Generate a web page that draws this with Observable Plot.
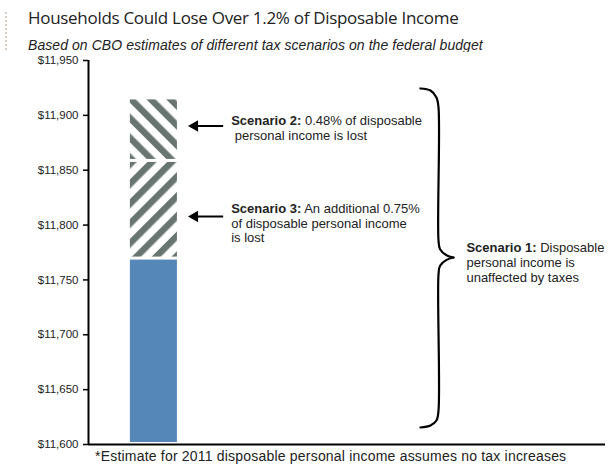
<!DOCTYPE html>
<html><head><meta charset="utf-8">
<script src="https://cdn.jsdelivr.net/npm/d3@7"></script>
<script src="https://cdn.jsdelivr.net/npm/@observablehq/plot@0.6"></script>
<style>
body{margin:0;background:#fff;}
#wrap{position:relative;width:610px;height:466px;overflow:hidden;font-family:"Liberation Sans",Arial,sans-serif;color:#222;}
#border{position:absolute;left:5px;top:12px;bottom:0;border-left:2px dotted #d8cbc2;}
#title{position:absolute;left:28px;top:6px;font-family:"Open Sans",sans-serif;font-size:17px;letter-spacing:-0.3px;font-weight:400;white-space:nowrap;color:#222;}
#subtitle{position:absolute;left:28px;top:37px;font-style:italic;font-size:14px;letter-spacing:0.07px;white-space:nowrap;}
#chart{position:absolute;left:0;top:52px;}
#caption{position:absolute;left:95px;top:448px;font-size:14px;line-height:16px;letter-spacing:0.2px;white-space:nowrap;}
svg text{white-space:pre;}
</style></head>
<body>
<div id="wrap">
  <div id="border"></div>
  <div id="title">Households Could Lose Over 1.2% of Disposable Income</div>
  <div id="subtitle">Based on CBO estimates of different tax scenarios on the federal budget</div>
  <div id="chart"></div>
  <div id="caption">*Estimate for 2011 disposable personal income assumes no tax increases</div>
</div>
<script>
// ---- data ----
const yTicks = [11600, 11650, 11700, 11750, 11800, 11850, 11900, 11950];
const segmentNames = ["Scenario 1", "Scenario 3", "Scenario 2"];
const segmentLow  = [11600, 11769, 11858];
const segmentHigh = [11769, 11858, 11915];
const noteTexts = [
  "Scenario 2: 0.48% of disposable\n personal income is lost",
  "Scenario 3: An additional 0.75%\nof disposable personal income\nis lost",
  "Scenario 1: Disposable\npersonal income is\nunaffected by taxes"
];
const noteY = [11888.5, 11802, 11766];
const arrowY = [11890.3, 11807.8];
// annotation positions on a neutral 0–100 horizontal axis
const barX = [8.1, 17.2];
const noteX = [27.6, 27.6, 73.1];
const arrowX = [26.05, 20.54, 19.25]; // shaft start, head centre, tip
const braceUpper = [[64.2,11924.5],[66.15,11922.6],[67.3,11916.3],[67.7,11907.2],[67.7,11786],[68.0,11778],[69.25,11772.5],[70.6,11770.4]];
const braceLower = [[70.6,11770.4],[69.25,11768.3],[68.0,11763],[67.7,11755],[67.7,11631],[67.3,11621.9],[66.15,11617.4],[64.2,11615.5]];

// ---- build tables ----
const segments = segmentNames.map((name, i) => ({name, low: segmentLow[i], high: segmentHigh[i]}));
const notes = noteTexts.map((text, i) => ({text, x: noteX[i], y: noteY[i]}));
const arrows = arrowY.map(y => ({y}));
const brace = [
  ...braceUpper.map(([x, y]) => ({x, y, part: "upper"})),
  ...braceLower.map(([x, y]) => ({x, y, part: "lower"}))
];

const fills = ["#5588b8", "url(#hatchUp)", "url(#hatchDown)"];
const hatchColor = "#687571";

function defsMark() {
  const defs = d3.create("svg:defs");
  [["hatchUp", 45], ["hatchDown", -45]].forEach(([id, angle]) => {
    const p = defs.append("pattern").attr("id", id)
      .attr("patternUnits", "userSpaceOnUse")
      .attr("width", 14).attr("height", 14)
      .attr("patternTransform", `rotate(${angle})`);
    p.append("rect").attr("width", 14).attr("height", 14).attr("fill", "white");
    p.append("rect").attr("width", 6.5).attr("height", 14).attr("fill", hatchColor);
  });
  return defs.node();
}

const chart = Plot.plot({
  width: 610,
  height: 414,
  marginLeft: 88,
  marginRight: 5,
  marginTop: 8,
  marginBottom: 22,
  x: {domain: [0, 100], axis: null},
  y: {domain: [11600, 11950], axis: null},
  color: {domain: segmentNames, range: fills},
  style: {fontFamily: "'Liberation Sans', Arial, sans-serif", color: "#222", background: "white", overflow: "visible"},
  marks: [
    defsMark,
    Plot.rect(segments, {x1: barX[0], x2: barX[1], y1: "low", y2: "high", fill: "name", insetTop: 1, insetBottom: 2}),
    Plot.axisY({ticks: yTicks, tickFormat: d => "$" + d3.format(",")(d), tickSize: 5, tickPadding: 5, fontSize: 11.5, stroke: "#000", strokeWidth: 1.5, color: "#222", label: null}),
    Plot.ruleX([0], {y1: 11600, y2: 11950, stroke: "#000", strokeWidth: 2}),
    Plot.ruleY([11600], {x1: 0, x2: 100, stroke: "#000", strokeWidth: 2}),
    Plot.link(arrows, {x1: arrowX[0], x2: arrowX[1], y1: "y", y2: "y", stroke: "#000", strokeWidth: 2}),
    Plot.dot(arrows, {x: arrowX[1], y: "y", symbol: "triangle", r: 4.3, rotate: -90, fill: "#000", stroke: "none"}),
    Plot.line(brace, {x: "x", y: "y", z: "part", curve: "catmull-rom", stroke: "#000", strokeWidth: 2.2}),
    Plot.text(notes, {x: "x", y: "y", text: "text", textAnchor: "start", lineAnchor: "middle", fontSize: 13, lineHeight: 1.12, fill: "#222"})
  ]
});
document.getElementById("chart").appendChild(chart);

// bold "Scenario N:" prefixes
d3.select(chart).selectAll("tspan").each(function() {
  const t = this.textContent;
  const m = t.match(/^(Scenario \d:)(.*)$/);
  if (m) {
    this.textContent = "";
    d3.select(this).append("tspan").attr("font-weight", "bold").text(m[1]);
    d3.select(this).append("tspan").text(m[2]);
  }
});
</script>
</body></html>
